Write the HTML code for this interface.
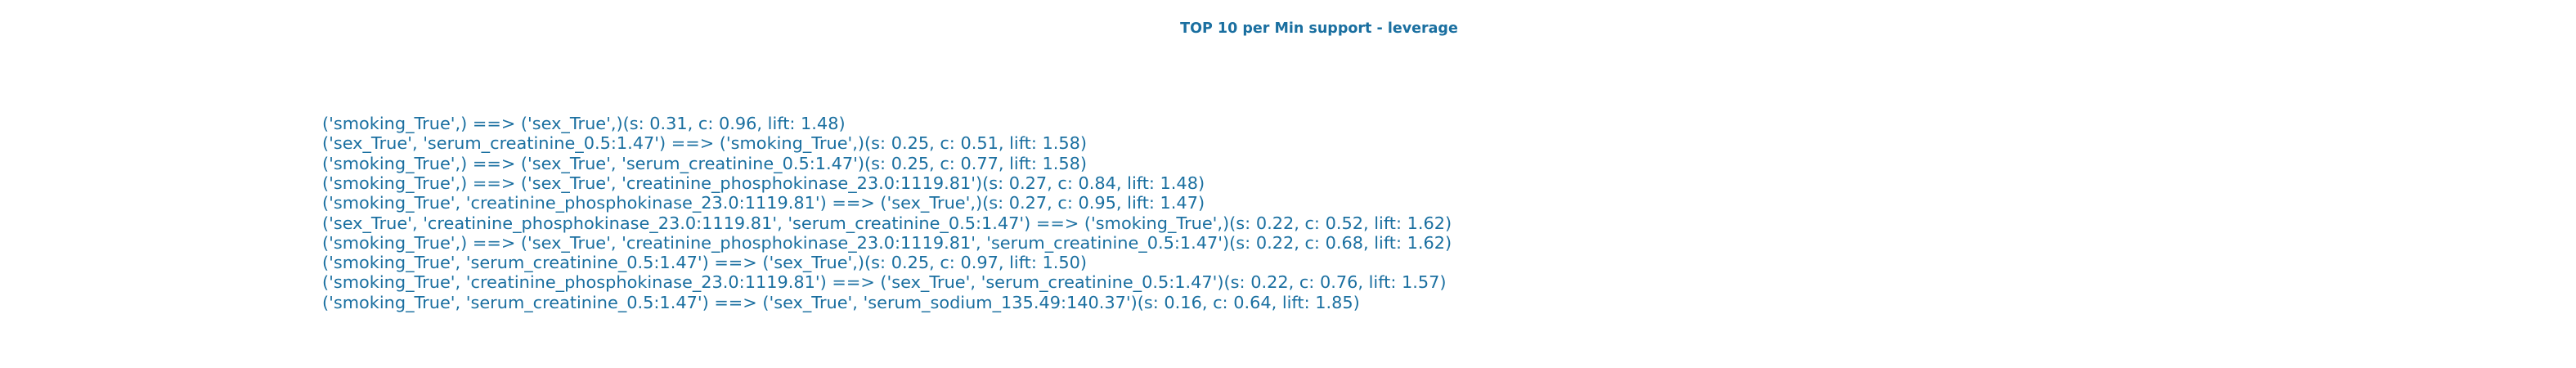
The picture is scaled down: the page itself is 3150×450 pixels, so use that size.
<!DOCTYPE html>
<html><head><meta charset="utf-8"><style>
body{margin:0;width:3150px;height:450px;background:#fff;overflow:hidden;position:relative;font-family:"DejaVu Sans","Liberation Sans",sans-serif;color:#1a6fa0}
#title{position:absolute;left:0;width:3226px;top:25px;text-align:center;font-weight:bold;font-size:17.5px;white-space:nowrap}
.line{position:absolute;left:394px;font-size:20.85px;white-space:pre;line-height:24px}
</style></head><body>
<div id="title">TOP 10 per Min support - leverage</div>
<div class="line" style="top:139px">('smoking_True',) ==> ('sex_True',)(s: 0.31, c: 0.96, lift: 1.48)</div>
<div class="line" style="top:163.3px">('sex_True', 'serum_creatinine_0.5:1.47') ==> ('smoking_True',)(s: 0.25, c: 0.51, lift: 1.58)</div>
<div class="line" style="top:187.6px">('smoking_True',) ==> ('sex_True', 'serum_creatinine_0.5:1.47')(s: 0.25, c: 0.77, lift: 1.58)</div>
<div class="line" style="top:211.9px">('smoking_True',) ==> ('sex_True', 'creatinine_phosphokinase_23.0:1119.81')(s: 0.27, c: 0.84, lift: 1.48)</div>
<div class="line" style="top:236.2px">('smoking_True', 'creatinine_phosphokinase_23.0:1119.81') ==> ('sex_True',)(s: 0.27, c: 0.95, lift: 1.47)</div>
<div class="line" style="top:260.5px">('sex_True', 'creatinine_phosphokinase_23.0:1119.81', 'serum_creatinine_0.5:1.47') ==> ('smoking_True',)(s: 0.22, c: 0.52, lift: 1.62)</div>
<div class="line" style="top:284.8px">('smoking_True',) ==> ('sex_True', 'creatinine_phosphokinase_23.0:1119.81', 'serum_creatinine_0.5:1.47')(s: 0.22, c: 0.68, lift: 1.62)</div>
<div class="line" style="top:309.1px">('smoking_True', 'serum_creatinine_0.5:1.47') ==> ('sex_True',)(s: 0.25, c: 0.97, lift: 1.50)</div>
<div class="line" style="top:333.4px">('smoking_True', 'creatinine_phosphokinase_23.0:1119.81') ==> ('sex_True', 'serum_creatinine_0.5:1.47')(s: 0.22, c: 0.76, lift: 1.57)</div>
<div class="line" style="top:357.7px">('smoking_True', 'serum_creatinine_0.5:1.47') ==> ('sex_True', 'serum_sodium_135.49:140.37')(s: 0.16, c: 0.64, lift: 1.85)</div>
</body></html>
